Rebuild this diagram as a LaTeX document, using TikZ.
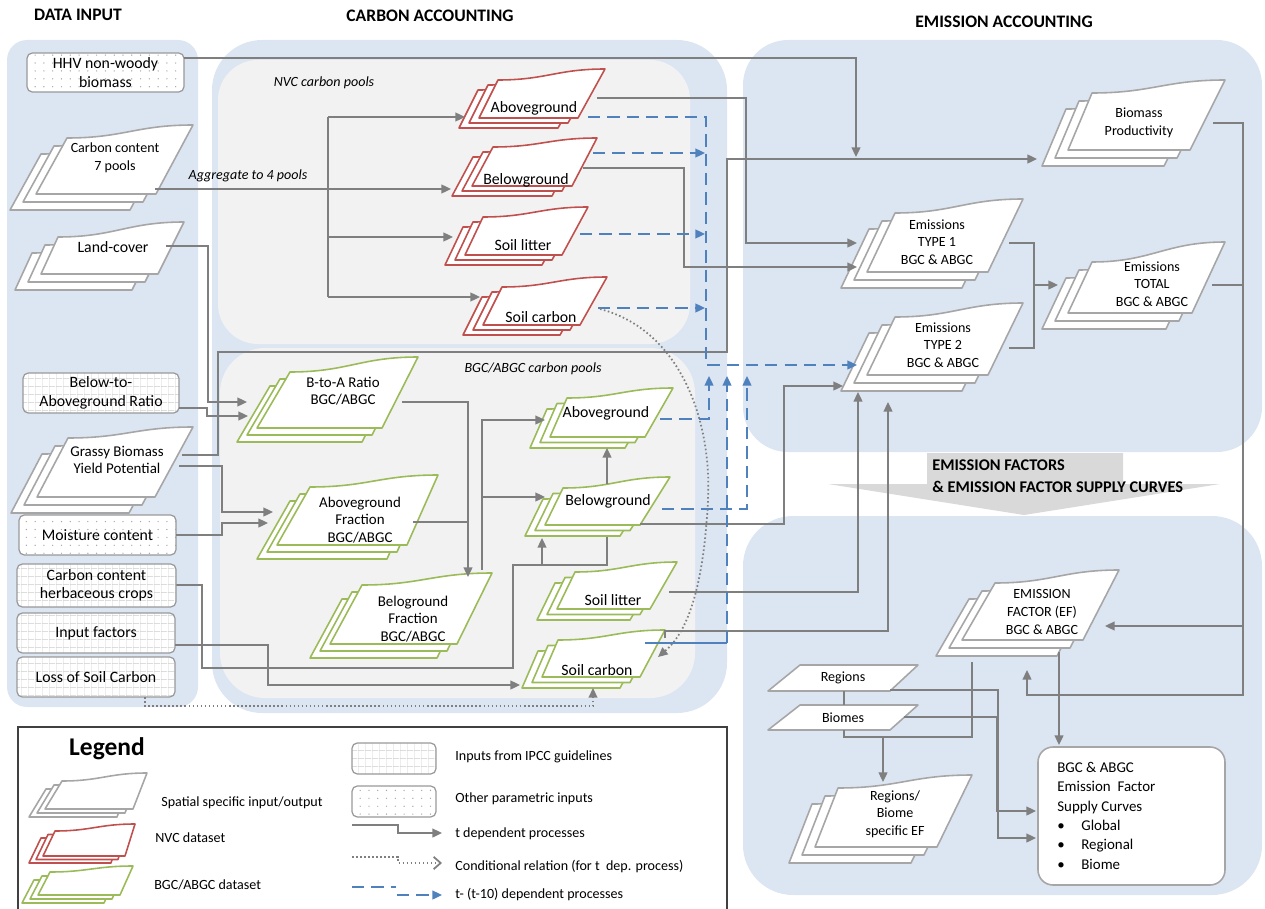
\documentclass[tikz,border=0pt]{standalone}
\usepackage{fontspec}
\setmainfont{Carlito}
\usetikzlibrary{arrows.meta,patterns.meta}

\definecolor{panelblue}{HTML}{DCE6F2}
\definecolor{panelgray}{HTML}{F2F2F2}
\definecolor{cgray}{HTML}{7F7F7F}
\definecolor{sgray}{HTML}{A6A6A6}
\definecolor{sred}{HTML}{C0504D}
\definecolor{sgreen}{HTML}{9BBB59}
\definecolor{cblue}{HTML}{4F81BD}
\definecolor{bigarrow}{HTML}{D9D9D9}

\tikzdeclarepattern{name=pdots, type=uncolored,
  bounding box={(-1pt,-1pt) and (1pt,1pt)},
  tile size={(5pt,4.5pt)},
  code={\fill (0pt,0pt) circle (0.4pt);}}
\tikzdeclarepattern{name=pgrid, type=uncolored,
  bounding box={(0pt,0pt) and (4pt,4.5pt)},
  tile size={(4pt,4.5pt)},
  code={\fill (0pt,0pt) rectangle (4pt,0.3pt); \fill (0pt,0pt) rectangle (0.3pt,4.5pt);}}

\newcommand{\stk}[8]{%
  \foreach \k in {2,1,0}{%
    \draw[stackline, draw=#1, shift={(-\k*\ox,\k*\oy)}] (#2,#3) -- (#4,#5)
      .. controls ({#4+0.45*(#6-#4)},#5) and ({#4+0.55*(#6-#4)},#7) .. (#6,#7)
      -- (#8,#3) -- cycle;
  }}

\begin{document}
\begin{tikzpicture}[x=0.02cm, y=-0.02cm,
  stackline/.style={line width=0.9pt, fill=white, line join=round},
  conn/.style={draw=cgray, line width=1.1pt},
  dconn/.style={draw=cblue, line width=1.1pt, dash pattern=on 7pt off 4pt},
  bconn/.style={draw=cblue, line width=1.1pt},
  dotconn/.style={draw=cgray, line width=1pt, dash pattern=on 0.9pt off 1.4pt},
  ga/.style={-{Triangle[length=5.5pt,width=5pt]}},
  ba/.style={-{Triangle[length=5.5pt,width=5pt,fill=cblue]}},
  ipcc/.style={draw=gray!80, line width=0.7pt, rounded corners=3pt, preaction={fill=white}, pattern=pgrid, pattern color=gray!40, inner sep=0pt, align=center, font=\fontsize{9}{10.5}\selectfont},
  othr/.style={draw=gray!80, line width=0.7pt, rounded corners=3pt, preaction={fill=white}, pattern=pdots, pattern color=gray!70, inner sep=0pt, align=center, font=\fontsize{9}{10.8}\selectfont},
  t8/.style={font=\fontsize{8}{10}\selectfont, align=center, inner sep=0pt},
  t85/.style={font=\fontsize{8.5}{10}\selectfont, align=center, inner sep=0pt},
  t9/.style={font=\fontsize{9}{10.5}\selectfont, align=center, inner sep=0pt},
  ttl/.style={font=\fontsize{10}{12}\selectfont\bfseries, inner sep=0pt},
  itl/.style={font=\fontsize{8}{10}\selectfont\itshape, inner sep=0pt},
  lgt/.style={font=\fontsize{8}{10}\selectfont, inner sep=0pt, anchor=west}]

\useasboundingbox (0,0) rectangle (1265,909);

% ---------------- panels ----------------
\fill[panelblue, rounded corners=0.4cm] (7,40) rectangle (198,707);
\fill[panelblue, rounded corners=1cm] (212,40) rectangle (727,713);
\fill[panelgray, rounded corners=0.8cm] (218,60) rectangle (690,344);
\fill[panelgray, rounded corners=0.9cm] (220,348) rectangle (695,698);
\fill[panelblue, rounded corners=0.9cm] (743,40) rectangle (1262,452);
\fill[panelblue, rounded corners=1cm] (743,516) rectangle (1262,895);

% big arrow
\fill[bigarrow] (927,453) -- (1123,453) -- (1123,484) -- (1220,484) -- (1024,515) -- (828,484) -- (927,484) -- cycle;
\node[font=\fontsize{9.3}{11}\selectfont\bfseries, anchor=west, inner sep=0pt] (eft1) at (932,465) {EMISSION FACTORS};
\node[font=\fontsize{9.3}{11}\selectfont\bfseries, anchor=west, inner sep=0pt] (eft2) at (932,487) {\& EMISSION FACTOR SUPPLY CURVES};

% titles
\node[ttl] (tdi) at (78,15) {DATA INPUT};
\node[ttl] (tca) at (430,16) {CARBON ACCOUNTING};
\node[ttl] (tea) at (1004,22) {EMISSION ACCOUNTING};
\node[itl] (nvcl) at (324,83) {NVC carbon pools};
\node[itl] (bgcl) at (533,369) {BGC/ABGC carbon pools};
\node[itl] (aggl) at (248,176) {Aggregate to 4 pools};

% line drawn behind the BGC belowground stack
\draw[conn] (176,585) -- (202,585) -- (202,668) -- (513,668) -- (513,565) -- (607,565) -- (607,530);

% ---------------- stacks ----------------
\def\ox{13}\def\oy{8}
\stk{sgray}{36}{194}{67}{138}{193}{125}{156}
\stk{sgray}{41}{274}{58}{237}{184}{222}{158}
\stk{sgray}{37}{497}{68}{438}{193}{427}{155}
\stk{sgray}{1068}{150}{1092}{93}{1225}{80}{1190}
\stk{sgray}{867}{272}{895}{213}{1023}{199}{988}
\stk{sgray}{867}{375}{895}{317}{1023}{303}{988}
\stk{sgray}{1068}{313}{1092}{262}{1225}{242}{1192}
\stk{sgray}{962}{640}{995}{583}{1119}{570}{1083}
\stk{sgray}{815}{847}{838}{788}{972}{775}{937}

\def\ox{10}\def\oy{5}
\stk{sred}{479}{118}{498}{80}{605}{69}{578}
\stk{sred}{472}{186}{493}{147}{597}{138}{572}
\stk{sred}{465}{255}{483}{217}{588}{207}{562}
\stk{sred}{483}{325}{502}{287}{607}{277}{580}

\def\ox{10}\def\oy{7}
\stk{sgreen}{257}{428}{290}{372}{418}{357}{382}
\stk{sgreen}{277}{545}{310}{487}{438}{475}{407}
\stk{sgreen}{330}{644}{362}{585}{492}{573}{457}
\def\ox{10}\def\oy{5.5}
\stk{sgreen}{550}{437}{567}{398}{673}{388}{645}
\stk{sgreen}{545}{525}{563}{488}{670}{477}{640}
\stk{sgreen}{557}{609}{575}{572}{677}{562}{650}
\stk{sgreen}{542}{677}{558}{640}{665}{630}{640}

% parallelograms
\draw[stackline, draw=sgray] (768,691) -- (800,665) -- (918,665) -- (890,691) -- cycle;
\draw[stackline, draw=sgray] (768,730) -- (800,705) -- (918,705) -- (890,730) -- cycle;

% supply curve box
\draw[draw=sgray, line width=0.9pt, fill=white, rounded corners=0.3cm] (1038,747) rectangle (1225,885);

% ---------------- stack texts ----------------
\node[t8] (cc7) at (115,158) {Carbon content\\7 pools};
\node[t9] (lc) at (113,247) {Land-cover};
\node[t85] (gby) at (117,460) {Grassy Biomass\\Yield Potential};
\node[t8] (bp) at (1139,123) {Biomass\\Productivity};
\node[t8] (t1) at (937,242) {Emissions\\TYPE 1\\BGC \& ABGC};
\node[t8] (t2) at (943,345) {Emissions\\TYPE 2\\BGC \& ABGC};
\node[t8] (tot) at (1152,284) {Emissions\\TOTAL\\BGC \& ABGC};
\node[t8] (ef) at (1042,612) {EMISSION\\FACTOR (EF)\\BGC \& ABGC};
\node[t8] (rbe) at (895,814) {Regions/\\Biome\\specific EF};
\node[t9] (nag) at (534,108) {Aboveground};
\node[t9] (nbg) at (526,180) {Belowground};
\node[t9] (nsl) at (523,245) {Soil litter};
\node[t9] (nsc) at (541,317) {Soil carbon};
\node[t85] (bta) at (343,391) {B-to-A Ratio\\BGC/ABGC};
\node[t85] (agf) at (360,520) {Aboveground\\Fraction\\BGC/ABGC};
\node[t85] (bgf) at (413,619) {Beloground\\Fraction\\BGC/ABGC};
\node[t9] (bag) at (606,413) {Aboveground};
\node[t9] (bbg) at (608,501) {Belowground};
\node[t9] (bsl) at (613,600) {Soil litter};
\node[t9] (bsc) at (597,670) {Soil carbon};
\node[t8] (reg) at (843,678) {Regions};
\node[t8] (bio) at (843,718) {Biomes};
\node[font=\fontsize{8.5}{11}\selectfont, align=left, inner sep=0pt, anchor=north west] (sc) at (1057,762)
  {BGC \& ABGC\\Emission\ \ Factor\\Supply Curves\\
   \makebox[0.48cm][l]{\textbullet}Global\\\makebox[0.48cm][l]{\textbullet}Regional\\\makebox[0.48cm][l]{\textbullet}Biome};

% ---------------- input boxes ----------------
\node[othr, minimum width=3.14cm, minimum height=0.78cm] (hhv) at (105.5,72.5) {HHV non-woody\\biomass};
\node[ipcc, minimum width=3.12cm, minimum height=0.8cm] (btar) at (101,393) {Below-to-\\Aboveground Ratio};
\node[othr, minimum width=3.14cm, minimum height=0.8cm] (mc) at (97.5,535) {Moisture content};
\node[ipcc, minimum width=3.18cm, minimum height=0.86cm] (cch) at (96.5,585.5) {Carbon content\\herbaceous crops};
\node[ipcc, minimum width=3.16cm, minimum height=0.8cm] (inf) at (96,633) {Input factors};
\node[ipcc, minimum width=3.16cm, minimum height=0.8cm] (lsc) at (96,677) {Loss of Soil Carbon};

% ---------------- ports ----------------
\coordinate (hhv-out) at (184,58);
\coordinate (bp-in-top) at (856,157);
\coordinate (gby-out1) at (182,455);
\coordinate (bp-in) at (1037,159);
\coordinate (cc7-out) at (155,189);
\coordinate (nag-in) at (465,117);
\coordinate (nbg-in) at (451,189);
\coordinate (nsl-in) at (453,237);
\coordinate (nsc-in) at (480,297);
\coordinate (nag-out) at (597,98);
\coordinate (t1-in1) at (857,243);
\coordinate (nbg-out) at (583,168);
\coordinate (t1-in2) at (857,267);
\coordinate (lc-out) at (166,246);
\coordinate (bta-in1) at (247,402);
\coordinate (btar-out) at (179,408);
\coordinate (bta-in2) at (248,416);
\coordinate (gby-out2) at (179,466);
\coordinate (agf-in1) at (273,512);
\coordinate (mc-out) at (176,535);
\coordinate (agf-in2) at (268,523);
\coordinate (bbg-in) at (542,538);
\coordinate (bbg-top) at (607,484);
\coordinate (bag-in2) at (607,448);
\coordinate (if-out) at (175,645);
\coordinate (bsc-in) at (520,685);
\coordinate (bta-out) at (402,402);
\coordinate (agf-out) at (413,522);
\coordinate (bgf-in) at (468,577);
\coordinate (bgf-out) at (482,570);
\coordinate (bag-in) at (545,420);
\coordinate (bbg-in2) at (545,497);
\coordinate (bbg-out) at (640,524);
\coordinate (t2-in1) at (843,386);
\coordinate (bsl-out) at (669,592);
\coordinate (t2-in2) at (858,392);
\coordinate (bsc-out) at (665,638);
\coordinate (t2-in3) at (888,402);
\coordinate (t1-out) at (1009,243);
\coordinate (t2-out) at (1009,348);
\coordinate (tot-in) at (1058,285);
\coordinate (bp-out) at (1213,123);
\coordinate (tot-out) at (1212,285);
\coordinate (ef-in1) at (1105,626);
\coordinate (ef-in2) at (1027,670);
\coordinate (ef-out1) at (1059,652);
\coordinate (sc-in1) at (1059,745);
\coordinate (ef-out2) at (972,662);
\coordinate (reg-bot) at (844,691);
\coordinate (bio-top) at (844,705);
\coordinate (bio-bot) at (844,730);
\coordinate (rbe-in) at (883,782);
\coordinate (reg-out) at (890,690);
\coordinate (sc-in2) at (1036,838);
\coordinate (bio-out) at (904,717);
\coordinate (sc-in3) at (1036,811);
\coordinate (nag-dout) at (588,117);
\coordinate (t2-din) at (857,365);
\coordinate (nbg-dout) at (593,153);
\coordinate (nsl-dout) at (580,234);
\coordinate (nsc-dout) at (598,308);
\coordinate (bag-dout) at (660,419);
\coordinate (bbg-dout) at (662,509);
\coordinate (bsc-dout) at (645,643);
\coordinate (nsc-cout) at (600,309);
\coordinate (bsc-cin) at (658,657);
\coordinate (lsc-out) at (145,697);
\coordinate (bsc-cin2) at (593,688);

% ---------------- grey connectors ----------------
\draw[conn,ga] (hhv-out) -| (bp-in-top);
\draw[conn,ga] (gby-out1) -- (218,455) -- (218,352) -- (727,352) -- (727,159) -- (bp-in);
\draw[conn,ga] (cc7-out) -- (nbg-in);
\draw[conn] (328,117) -- (328,297);
\draw[conn,ga] (328,117) -- (nag-in);
\draw[conn,ga] (328,237) -- (nsl-in);
\draw[conn,ga] (328,297) -- (nsc-in);
\draw[conn,ga] (nag-out) -| (746,243) -- (t1-in1);
\draw[conn,ga] (nbg-out) -| (684,267) -- (t1-in2);
\draw[conn,ga] (lc-out) -| (208,402) -- (bta-in1);
\draw[conn,ga] (btar-out) -- (207,408) -- (207,416) -- (bta-in2);
\draw[conn,ga] (gby-out2) -- (222,466) -- (222,512) -- (agf-in1);
\draw[conn,ga] (mc-out) -- (222,535) -- (222,523) -- (agf-in2);
\draw[conn,ga] (542,565) -- (bbg-in);
\draw[conn,ga] (bbg-top) -- (bag-in2);
\draw[conn,ga] (if-out) -- (268,645) -- (268,685) -- (bsc-in);
\draw[conn] (bta-out) -- (468,402) -- (468,522);
\draw[conn] (agf-out) -- (468,522);
\draw[conn,ga] (468,522) -- (bgf-in);
\draw[conn,ga] (bgf-out) -- (482,420) -- (bag-in);
\draw[conn,ga] (482,497) -- (bbg-in2);
\draw[conn,ga] (bbg-out) -- (784,524) -- (784,386) -- (t2-in1);
\draw[conn,ga] (bsl-out) -| (t2-in2);
\draw[conn,ga] (bsc-out) -- (665,631) -| (t2-in3);
\draw[conn] (t1-out) -- (1034,243) -- (1034,348) -- (t2-out);
\draw[conn,ga] (1034,285) -- (tot-in);
\draw[conn,ga] (bp-out) -- (1243,123) -- (1243,695) -- (1027,695) -- (ef-in2);
\draw[conn] (tot-out) -- (1243,285);
\draw[conn,ga] (1243,626) -- (ef-in1);
\draw[conn,ga] (ef-out1) -- (sc-in1);
\draw[conn] (ef-out2) -- (972,737) -- (844,737) -- (bio-bot);
\draw[conn] (reg-bot) -- (bio-top);
\draw[conn,ga] (883,737) -- (rbe-in);
\draw[conn,ga] (reg-out) -- (998,690) -- (998,838) -- (sc-in2);
\draw[conn,ga] (bio-out) -- (997,717) -- (997,811) -- (sc-in3);

% ---------------- blue connectors ----------------
\draw[dconn,ba] (nag-dout) -- (706,117) -- (706,365) -- (t2-din);
\draw[dconn,ba] (nbg-dout) -- (705,153);
\draw[dconn,ba] (nsl-dout) -- (705,234);
\draw[dconn,ba] (nsc-dout) -- (705,308);
\draw[dconn,ba] (bag-dout) -- (709,419) -- (709,376);
\draw[dconn,ba] (bbg-dout) -- (747,509) -- (747,376);
\draw[bconn] (bsc-dout) -- (727,643);
\draw[dconn,ba] (727,643) -- (727,376);

% ---------------- dotted connectors ----------------
\draw[dotconn,ga] (nsc-cout) .. controls (680,330) and (712,420) .. (708,500)
   .. controls (704,580) and (690,630) .. (bsc-cin);
\draw[dotconn,ga] (lsc-out) -- (145,706) -- (593,706) -- (bsc-cin2);

% ---------------- legend ----------------
\draw[black!75, line width=0.8pt] (18,915) -- (18,727) -- (727,727) -- (727,915);
\node[font=\fontsize{14.5}{16}\selectfont\bfseries, inner sep=0pt] (lgd) at (107,749) {Legend};
\def\ox{8}\def\oy{4}
\stk{sgray}{45}{809}{62}{781}{147}{773}{133}
\def\ox{7}\def\oy{3.5}
\stk{sred}{43}{856}{55}{831}{135}{824}{125}
\def\ox{8}\def\oy{4}
\stk{sgreen}{38}{895}{50}{872}{133}{866}{120}
\node[lgt] (lg1) at (161,803) {Spatial specific input/output};
\node[lgt] (lg2) at (155,838) {NVC dataset};
\node[lgt] (lg3) at (154,885) {BGC/ABGC dataset};
\node[ipcc, minimum width=1.68cm, minimum height=0.62cm] (lgb1) at (394,758.5) {};
\node[othr, minimum width=1.68cm, minimum height=0.62cm] (lgb2) at (394,801.5) {};
\node[lgt] (lg4) at (455,757) {Inputs from IPCC guidelines};
\node[lgt] (lg5) at (455,799) {Other parametric inputs};
\node[lgt] (lg6) at (455,834) {t dependent processes};
\node[lgt] (lg7) at (455,866) {Conditional relation (for t\ \ dep. process)};
\node[lgt] (lg8) at (455,894) {t- (t-10) dependent processes};
\coordinate (lgl1a) at (352,825);
\coordinate (lgl1b) at (442,833);
\draw[conn,ga] (lgl1a) -- (398,825) -- (398,833) -- (lgl1b);
\coordinate (lgl2a) at (352,857);
\coordinate (lgl2b) at (442,863);
\draw[dotconn,-{Straight Barb[length=4pt,width=7pt]}] (lgl2a) -- (398,857) -- (398,863) -- (lgl2b);
\coordinate (lgl3a) at (352,887);
\coordinate (lgl3b) at (397,895);
\coordinate (lgl3c) at (442,895);
\draw[dconn] (lgl3a) -- (396,887);
\draw[dconn,ba] (lgl3b) -- (lgl3c);

\end{tikzpicture}
\end{document}
